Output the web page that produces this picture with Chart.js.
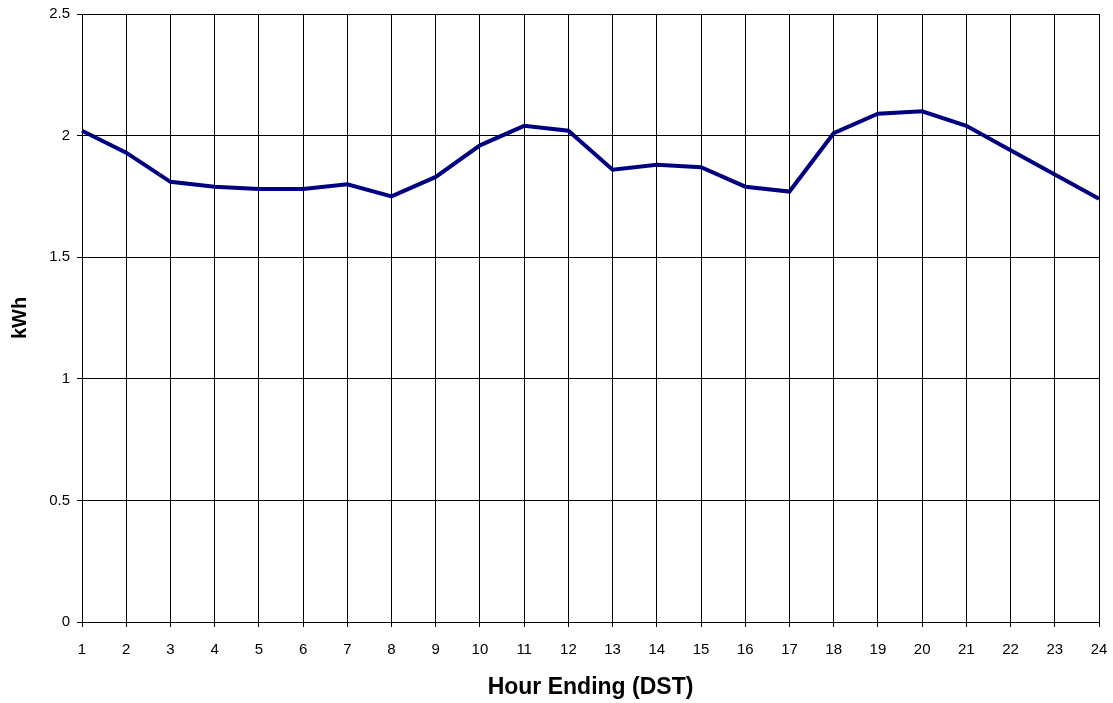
<!DOCTYPE html>
<html>
<head>
<meta charset="utf-8">
<script src="https://cdn.jsdelivr.net/npm/chart.js@4.4.0/dist/chart.umd.min.js"></script>
<style>
  html, body { margin: 0; padding: 0; background: #fff; }
  #myChart { display: block; }
</style>
</head>
<body>
<canvas id="myChart" width="1113" height="703"></canvas>
<script>
// hours 1..24 and the kWh
const hours = ['1','2','3','4','5','6','7','8','9','10','11','12','13','14','15','16','17','18','19','20','21','22','23','24'];
const kwh = [2.02, 1.93, 1.81, 1.79, 1.78, 1.78, 1.80, 1.75, 1.83, 1.96, 2.04, 2.02,
             1.86, 1.88, 1.87, 1.79, 1.77, 2.01, 2.09, 2.10, 2.04, 1.94, 1.84, 1.74];
const yTicks = [0, 0.5, 1, 1.5, 2, 2.5];

const fontName = "'Liberation Sans', Arial, sans-serif";

let ctx = document.getElementById("myChart");

const config = {
  type: 'line',
  data: {
    labels: hours,
    datasets: [{
      label: 'kWh',
      data: kwh,
      borderColor: '#000080',
      backgroundColor: '#000080',
      borderWidth: 4,
      pointRadius: 0,
      tension: 0,
      fill: false
    }]
  },
  options: {
    responsive: false,
    animation: false,
    layout: { padding: { top: 14, right: 14, left: 0, bottom: 0 } },
    plugins: {
      legend: { display: false },
      tooltip: { enabled: false }
    },
    scales: {
      x: {
        type: 'category',
        offset: false,
        grid: { color: '#000', lineWidth: 1, tickLength: 5, tickColor: '#000' },
        border: { color: '#000', width: 1 },
        ticks: {
          color: '#000',
          font: { family: fontName, size: 15 },
          padding: 14,
          maxRotation: 0,
          autoSkip: false
        },
        title: {
          display: true,
          text: 'Hour Ending (DST)',
          color: '#000',
          font: { family: fontName, size: 23, weight: 'bold' },
          padding: { top: 0, bottom: 2 }
        },
        afterFit: function (scale) {
          scale.height = 81;
          // let layout padding decide the plot edges
          scale.paddingLeft = 0;
          scale.paddingRight = 0;
        }
      },
      y: {
        min: 0,
        max: 2.5,
        afterBuildTicks: function (scale) {
          scale.ticks = yTicks.map(v => ({ value: v }));
        },
        grid: { color: '#000', lineWidth: 1, tickLength: 5, tickColor: '#000' },
        border: { color: '#000', width: 1 },
        ticks: {
          color: '#000',
          font: { family: fontName, size: 15 },
          padding: 7,
          callback: function (v) { return String(v); }
        },
        title: {
          display: true,
          text: 'kWh',
          color: '#000',
          font: { family: fontName, size: 20, weight: 'bold' },
          padding: { top: 8, bottom: 0 }
        },
        afterFit: function (scale) {
          scale.width = 82;
          scale.paddingTop = 0;
          scale.paddingBottom = 0;
        }
      }
    }
  }
};

let myChart = new Chart(ctx, config);
</script>
</body>
</html>
